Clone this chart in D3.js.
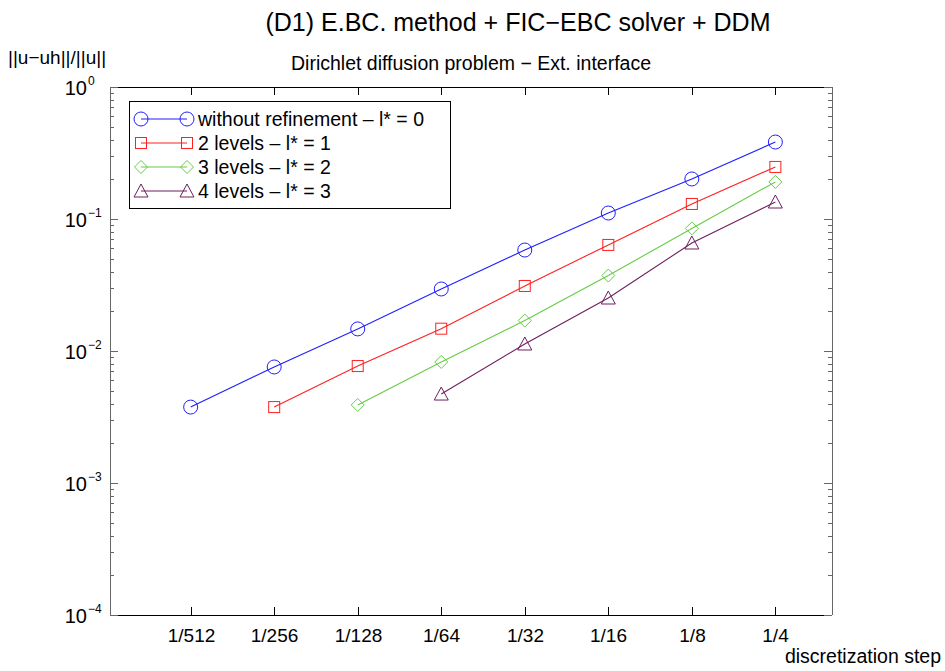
<!DOCTYPE html>
<html><head><meta charset="utf-8">
<script src="https://cdn.jsdelivr.net/npm/d3@7"></script>
<style>body{margin:0;background:#fff}svg{display:block}text{font-family:"Liberation Sans",Arial,sans-serif;fill:#000}</style>
</head><body><svg id="c" width="945" height="671"></svg>
<script>
const steps = [1/512, 1/256, 1/128, 1/64, 1/32, 1/16, 1/8, 1/4];
const stepLabels = ["1/512","1/256","1/128","1/64","1/32","1/16","1/8","1/4"];
const seriesNames = ["without refinement \u2013 l* = 0","2 levels \u2013 l* = 1","3 levels \u2013 l* = 2","4 levels \u2013 l* = 3"];
const seriesColors = ["#1f1fff","#ff2020","#66cc44","#6e1f5e"];
const seriesShapes = ["circle","square","diamond","triangle"];
const blueVals   = [0.00376, 0.00757, 0.0147, 0.0295, 0.0582, 0.111, 0.201, 0.383];
const redVals    = [null, 0.00376, 0.00769, 0.01476, 0.0311, 0.0636, 0.130, 0.248];
const greenVals  = [null, null, 0.0039, 0.00826, 0.0170, 0.0373, 0.0848, 0.191];
const purpleVals = [null, null, null, 0.00472, 0.0113, 0.0252, 0.0658, 0.1345];
const yTickExps = [0,-1,-2,-3,-4];

const allVals = [blueVals, redVals, greenVals, purpleVals];
const svg = d3.select("#c");
const L=110, R=832, T=87, B=615;
const x = d3.scaleLog().base(2).domain([1/1000, 0.4]).range([L,R]);
const y = d3.scaleLog().domain([1e-4, 1]).range([B,T]);

// frame
svg.append("line").attr("x1",L).attr("x2",R).attr("y1",T+0.5).attr("y2",T+0.5).attr("stroke","#000");
svg.append("line").attr("x1",L).attr("x2",R).attr("y1",B+0.5).attr("y2",B+0.5).attr("stroke","#000");
svg.append("line").attr("x1",L+0.5).attr("x2",L+0.5).attr("y1",T).attr("y2",B).attr("stroke","#666");
svg.append("line").attr("x1",R+0.5).attr("x2",R+0.5).attr("y1",T).attr("y2",B).attr("stroke","#666");

// x ticks
const gx = svg.append("g");
steps.forEach((s,i)=>{
  const px = Math.round(x(s))+0.5;
  gx.append("line").attr("x1",px).attr("x2",px).attr("y1",B).attr("y2",B-8).attr("stroke","#000");
  gx.append("line").attr("x1",px).attr("x2",px).attr("y1",T).attr("y2",T+8).attr("stroke","#000");
  gx.append("text").attr("x",px).attr("y",B+27).attr("text-anchor","middle").attr("font-size",19).text(stepLabels[i]);
});
svg.append("text").attr("x",941).attr("y",663).attr("text-anchor","end").attr("font-size",19.5).text("discretization step");

// y ticks
const gy = svg.append("g");
const minor = [];
for (let e=-4;e<0;e++) for (let m=2;m<=9;m++) minor.push(m*Math.pow(10,e));
minor.forEach(v=>{
  const py = Math.round(y(v))+0.5;
  gy.append("line").attr("x1",L).attr("x2",L+4).attr("y1",py).attr("y2",py).attr("stroke","#666");
  gy.append("line").attr("x1",R).attr("x2",R-4).attr("y1",py).attr("y2",py).attr("stroke","#666");
});
yTickExps.forEach(e=>{
  const py = Math.round(y(Math.pow(10,e)))+0.5;
  gy.append("line").attr("x1",L).attr("x2",L+8).attr("y1",py).attr("y2",py).attr("stroke","#666");
  gy.append("line").attr("x1",R).attr("x2",R-8).attr("y1",py).attr("y2",py).attr("stroke","#666");
  gy.append("text").attr("x",87).attr("y",py+7).attr("text-anchor","end").attr("font-size",20).text("10");
  gy.append("text").attr("x",88).attr("y",py-3).attr("font-size",12).text(e===0?"0":"\u2212"+(-e));
});

// shapes
function drawMarker(g, shape, cx, cy, color){
  if(shape==="circle") g.append("circle").attr("cx",cx).attr("cy",cy).attr("r",7).attr("fill","none").attr("stroke",color);
  else if(shape==="square") g.append("rect").attr("x",cx-5.5).attr("y",cy-5.5).attr("width",11).attr("height",11).attr("fill","none").attr("stroke",color);
  else if(shape==="diamond") g.append("path").attr("d",`M${cx},${cy-6.5}L${cx+6.5},${cy}L${cx},${cy+6.5}L${cx-6.5},${cy}Z`).attr("fill","none").attr("stroke",color);
  else g.append("path").attr("d",`M${cx},${cy-7}L${cx+7},${cy+6}L${cx-7},${cy+6}Z`).attr("fill","none").attr("stroke",color);
}

const gd = svg.append("g");
allVals.forEach((vals,k)=>{
  const pts = steps.map((s,i)=>[s,vals[i]]).filter(d=>d[1]!=null);
  gd.append("path").attr("d", d3.line().x(d=>x(d[0])).y(d=>y(d[1]))(pts))
    .attr("fill","none").attr("stroke",seriesColors[k]).attr("stroke-width",1.1);
  pts.forEach(d=>drawMarker(gd, seriesShapes[k], x(d[0]), y(d[1]), seriesColors[k]));
});

// legend
const lg = svg.append("g");
lg.append("rect").attr("x",129.5).attr("y",101.5).attr("width",321).attr("height",107).attr("fill","#fff").attr("stroke","#000");
seriesNames.forEach((n,k)=>{
  const cy = 119 + k*24;
  lg.append("line").attr("x1",141).attr("x2",187).attr("y1",cy).attr("y2",cy).attr("stroke",seriesColors[k]).attr("stroke-width",1.1);
  drawMarker(lg, seriesShapes[k], 141, cy, seriesColors[k]);
  drawMarker(lg, seriesShapes[k], 187, cy, seriesColors[k]);
  lg.append("text").attr("x",198).attr("y",cy+7).attr("font-size",19.5).text(n);
});

// titles
svg.append("text").attr("x",518).attr("y",31).attr("text-anchor","middle").attr("font-size",25).text("(D1) E.BC. method + FIC\u2212EBC solver + DDM");
svg.append("text").attr("x",471).attr("y",70).attr("text-anchor","middle").attr("font-size",19.5).text("Dirichlet diffusion problem \u2212 Ext. interface");
svg.append("text").attr("x",8).attr("y",64).attr("font-size",19).text("||u\u2212uh||/||u||");
</script></body></html>
